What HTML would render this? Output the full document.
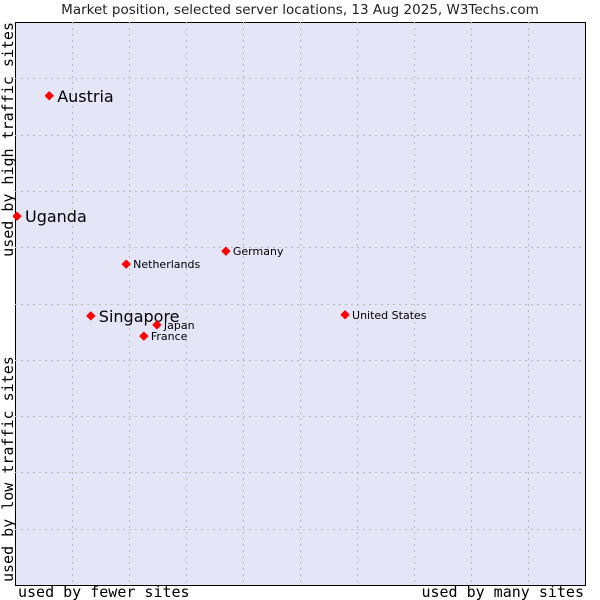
<!DOCTYPE html>
<html><head><meta charset="utf-8"><style>
body{margin:0;background:#fff}
svg{display:block}
</style></head><body>
<svg id="chart" width="600" height="600" xmlns="http://www.w3.org/2000/svg">
<text x="300" y="14" text-anchor="middle" font-family="DejaVu Sans, sans-serif" font-size="13.5" fill="#222">Market position, selected server locations, 13 Aug 2025, W3Techs.com</text>
<rect x="15.5" y="22.5" width="570" height="563" fill="#e4e6f8" stroke="#000" stroke-width="1"/>
<g id="grid"></g>
<g id="points"></g>
<text x="18" y="597" font-family="DejaVu Sans Mono, monospace" font-size="15" fill="#000">used by fewer sites</text>
<text x="584" y="597" text-anchor="end" font-family="DejaVu Sans Mono, monospace" font-size="15" fill="#000">used by many sites</text>
<text transform="translate(13,22) rotate(-90)" text-anchor="end" font-family="DejaVu Sans Mono, monospace" font-size="15" fill="#000">used by high traffic sites</text>
<text transform="translate(13,582) rotate(-90)" font-family="DejaVu Sans Mono, monospace" font-size="15" fill="#000">used by low traffic sites</text>
</svg>
<script>
const names = ["Austria","Uganda","Germany","Netherlands","United States","Singapore","Japan","France"];
const xValues = [6.0,0.35,37.0,19.5,57.9,13.3,24.9,22.6];
const yValues = [86.9,65.5,59.3,57.0,48.0,47.8,46.2,44.2];
const highlighted = [true,true,false,false,false,true,false,false];
const NS="http://www.w3.org/2000/svg";
const L=15,R=585,T=22,B=585;
function sx(v){return L+v/100*(R-L);}
function sy(v){return B-v/100*(B-T);}
const grid=document.getElementById('grid');
for(let i=1;i<10;i++){
  const x=Math.round(sx(i*10))+0.5, y=Math.round(sy(i*10))+0.5;
  const a=document.createElementNS(NS,'line');
  
  
  a.setAttribute('x1',x);a.setAttribute('x2',x);a.setAttribute('y1',T);a.setAttribute('y2',B);
  a.setAttribute('stroke','#bbbbbb');a.setAttribute('stroke-dasharray','2,4');grid.appendChild(a);
  const b=document.createElementNS(NS,'line');
  
  
  b.setAttribute('x1',L);b.setAttribute('x2',R);b.setAttribute('y1',y);b.setAttribute('y2',y);
  b.setAttribute('stroke','#bbbbbb');b.setAttribute('stroke-dasharray','2,4');grid.appendChild(b);
}
const pts=document.getElementById('points');
names.forEach((n,i)=>{
  const x=sx(xValues[i]),y=sy(yValues[i]);
  const d=document.createElementNS(NS,'path');
  
  
  d.setAttribute('d',`M${x-4},${y} L${x},${y-4} L${x+4},${y} L${x},${y+4} Z`);
  d.setAttribute('fill','#f00');d.setAttribute('stroke','#f00');d.setAttribute('stroke-linejoin','round');
  pts.appendChild(d);
  const t=document.createElementNS(NS,'text');
  
  
  const big=highlighted[i];
  t.setAttribute('x',x+(big?8:7));t.setAttribute('y',y+(big?6:4));
  t.setAttribute('font-family','DejaVu Sans, sans-serif');
  t.setAttribute('font-size',big?16:11);t.setAttribute('fill','#000');
  t.textContent=n;pts.appendChild(t);
});
</script>
</body></html>
